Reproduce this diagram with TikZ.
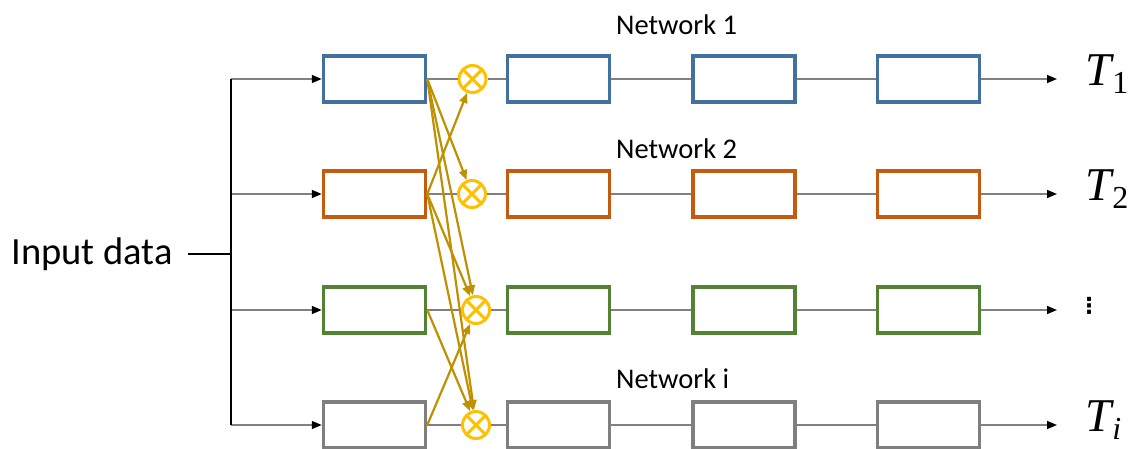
\documentclass[tikz,border=0pt]{standalone}
\usepackage{fontspec}
\setmainfont{Carlito}
\newfontfamily\lserif{Liberation Serif}
\newfontfamily\dejavu{DejaVu Sans}
\usetikzlibrary{arrows.meta}
\definecolor{cblue}{HTML}{41719C}
\definecolor{corange}{HTML}{C55A11}
\definecolor{cgreen}{HTML}{548235}
\definecolor{cgray}{HTML}{7F7F7F}
\definecolor{cgold}{HTML}{BF9000}
\definecolor{cyel}{HTML}{FFC000}
\definecolor{cline}{HTML}{808080}
\newcommand{\tsub}[1]{{\fontsize{47}{50}\selectfont\lserif\itshape T}\kern1pt\raisebox{-8pt}{\fontsize{32}{34}\selectfont\lserif #1}}
\tikzset{
  netbox/.style={draw=#1, line width=3.5pt, minimum width=102pt, minimum height=46pt, inner sep=0pt},
  mult/.style={circle, draw=cyel, line width=3pt, minimum size=27pt, inner sep=0pt,
    path picture={\draw[cyel, line width=3pt] (path picture bounding box.north west) -- (path picture bounding box.south east)
      (path picture bounding box.north east) -- (path picture bounding box.south west);}},
  link/.style={draw=cline, line width=1.5pt},
  inarrow/.style={link, -{Triangle[length=10pt,width=8pt,color=black]}},
  cross/.style={draw=cgold, line width=2.2pt, -{Triangle[length=10pt,width=8pt]}},
  netlabel/.style={font=\fontsize{28.5}{30}\selectfont, anchor=west, inner sep=0pt},
  tlabel/.style={anchor=base west, inner sep=0pt}
}
\begin{document}
\begin{tikzpicture}[x=1pt,y=-1pt]
\useasboundingbox (0,0) rectangle (1128,448);
% rows
\foreach \r/\y/\c/\cx in {1/79/cblue/472.5, 2/194/corange/472, 3/310/cgreen/476, 4/425/cgray/476} {
  \node[netbox=\c] (a\r) at (374.5,\y) {};
  \node[mult] (c\r) at (\cx,\y) {};
  \node[netbox=\c] (b\r) at (558.5,\y) {};
  \node[netbox=\c] (d\r) at (744,\y) {};
  \node[netbox=\c] (e\r) at (928.5,\y) {};
  \coordinate (o\r) at (1057,\y);
  \coordinate (s\r) at (231,\y);
  \draw[link] (a\r.east) -- (c\r.west);
  \draw[link] (c\r.east) -- (b\r.west);
  \draw[link] (b\r.east) -- (d\r.west);
  \draw[link] (d\r.east) -- (e\r.west);
  \draw[inarrow] (e\r.east) -- (o\r);
  \draw[inarrow] (s\r) -- (a\r.west);
}
% input
\node[font=\fontsize{38.5}{42}\selectfont, anchor=east, inner sep=0pt] (in) at (173,254) {Input data};
\coordinate (sm) at (231,254);
\draw[black, line width=1.3pt] (in.east) ++(15pt,0) -- (sm);
\draw[black, line width=1.3pt] (s1) -- (s4);
% labels
\node[netlabel] (n1) at (616,25) {Network 1};
\node[netlabel] (n2) at (616,149) {Network 2};
\node[netlabel] (ni) at (616,379) {Network i};
\node[tlabel] (t1) at (1085,85) {\tsub{1}};
\node[tlabel] (t2) at (1085,200) {\tsub{2}};
\node[font=\fontsize{22}{24}\selectfont\dejavu\bfseries, inner sep=0pt] (dots) at (1089,306) {⋮};
\node[tlabel] (ti) at (1085,431) {\tsub{\itshape i}};
% cross connections
\draw[cross] (a1.east) -- (c2);
\draw[cross] (a1.east) -- (c3);
\draw[cross] (a1.east) -- (c4);
\draw[cross] (a2.east) -- (c1);
\draw[cross] (a2.east) -- (c3);
\draw[cross] (a2.east) -- (c4);
\draw[cross] (a3.east) -- (c4);
\draw[cross] (a4.east) -- (c3);
\end{tikzpicture}
\end{document}
